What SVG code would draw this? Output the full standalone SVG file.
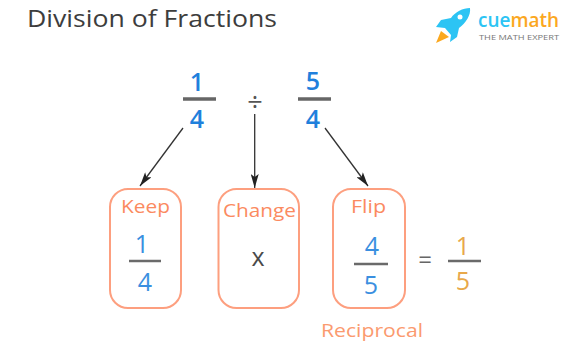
<svg xmlns="http://www.w3.org/2000/svg" width="566" height="343" viewBox="0 0 566 343">
<style>
text{font-family:"Open Sans","Liberation Sans",sans-serif;text-anchor:middle}
.box{fill:#fff;stroke:#fd9f7f;stroke-width:2}
.lab{fill:#fb8a60;font-size:18.500px}
.blue{fill:#3a8fe0;font-size:25px}
.bar{stroke:#6a6a6a;stroke-width:2.500}
.bar2{stroke:#666;stroke-width:3.500}
.big{fill:#1f80dc;font-size:25px;font-weight:600}
.con{stroke:#333;stroke-width:1.300;fill:none;marker-end:url(#ah)}
</style>
<defs><marker id="ah" viewBox="0 0 14 8" refX="14" refY="4" markerWidth="15" markerHeight="8" markerUnits="userSpaceOnUse" orient="auto"><path d="M0 0L14 4L0 8L3 4Z" fill="#222"/></marker></defs>
<rect width="566" height="343" fill="#fff"/>
<text id="title" x="152" y="27" font-size="24" fill="#3d3d3d" textLength="250" lengthAdjust="spacingAndGlyphs">Division of Fractions</text>
<g id="logo">
<path d="M470 8C463 8 455 12 451 18L441 20L436 27L445 28L451 35L450 42L457 37L459 28C466 23 471 15 470 8Z" fill="#2cc4f4"/>
<path d="M441 31L449 37L436 43Z" fill="#fba81f"/>
<circle cx="460" cy="17" r="2.500" fill="#fff"/>
<text x="518.500" y="27" font-size="20" font-weight="600" fill="#2cc4f4" textLength="81" lengthAdjust="spacingAndGlyphs">cue<tspan fill="#fba81f">math</tspan></text>
<text x="519" y="40" font-size="7.500" fill="#777" textLength="80" lengthAdjust="spacingAndGlyphs">THE MATH EXPERT</text>
</g>
<g id="connectors">
<path class="con" d="M183 128L140 186"/>
<path class="con" d="M254.700 114L254.700 188"/>
<path class="con" d="M325 128L368 186"/>
</g>
<g id="frac-left"><text class="big" x="197" y="91">1</text><line class="bar2" x1="183" y1="99" x2="216" y2="99"/><text class="big" x="197" y="128">4</text></g>
<g id="divide"><text x="255" y="111" font-size="27" fill="#555">÷</text></g>
<g id="frac-right"><text class="big" x="313" y="90">5</text><line class="bar2" x1="298" y1="99" x2="331" y2="99"/><text class="big" x="313" y="128">4</text></g>
<g id="keep"><rect class="box" x="110" y="189" width="71" height="119" rx="18"/><text class="lab" x="145.500" y="213" textLength="49" lengthAdjust="spacingAndGlyphs">Keep</text><text class="blue" x="142" y="253">1</text><line class="bar" x1="129" y1="261" x2="161" y2="261"/><text class="blue" x="145" y="291">4</text></g>
<g id="change"><rect class="box" x="218.500" y="189" width="80.500" height="119" rx="18"/><text class="lab" x="259.500" y="217" textLength="73" lengthAdjust="spacingAndGlyphs">Change</text><text x="258" y="266" font-size="25" fill="#4a4a4a">x</text></g>
<g id="flip"><rect class="box" x="333" y="189" width="72" height="119" rx="18"/><text class="lab" x="368.500" y="213" textLength="35" lengthAdjust="spacingAndGlyphs">Flip</text><text class="blue" x="372" y="255">4</text><line class="bar" x1="354" y1="264" x2="388" y2="264"/><text class="blue" x="371" y="294">5</text></g>
<g id="result"><text x="425" y="268" font-size="24" fill="#666">=</text><text x="463" y="255" font-size="25" fill="#e8a84a">1</text><line class="bar" x1="448" y1="261" x2="481" y2="261"/><text x="463" y="290" font-size="25" fill="#e8a84a">5</text></g>
<text id="reciprocal" x="372" y="337" font-size="18" fill="#fb9a6f" textLength="102" lengthAdjust="spacingAndGlyphs">Reciprocal</text>
</svg>
